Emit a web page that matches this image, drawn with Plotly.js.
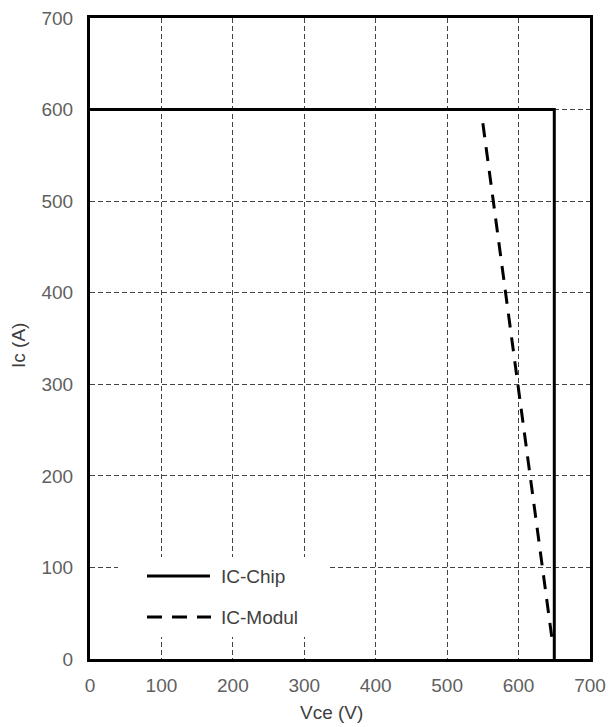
<!DOCTYPE html>
<html>
<head>
<meta charset="utf-8">
<script src="https://cdn.plot.ly/plotly-3.0.1.min.js"></script>
<style>html,body{margin:0;padding:0;background:#fff;}#chart{width:608px;height:727px;}</style>
</head>
<body>
<div id="chart"></div>
<script>
// Data
const seriesNames = ["IC-Chip", "IC-Modul"];
const chipVce = [0, 650, 650];
const chipIc = [600, 600, 0];
const modulVce = [550, 575, 600, 625, 648];
const modulIc = [585, 440, 295, 150, 15];
const tickVals = [0, 100, 200, 300, 400, 500, 600, 700];
const xTitle = "Vce (V)";
const yTitle = "Ic (A)";

const FONT = "Liberation Sans, Arial, sans-serif";

const traces = [
  {x: chipVce, y: chipIc, name: seriesNames[0], mode: "lines",
   line: {color: "#000", width: 3}, showlegend: false},
  {x: modulVce, y: modulIc, name: seriesNames[1], mode: "lines",
   line: {color: "#000", width: 3, dash: "14px,10px"}, showlegend: false}
];

const axisCommon = {
  range: [0, 700], tickvals: tickVals, ticktext: tickVals.map(String),
  showgrid: true, gridcolor: "#444", gridwidth: 1, griddash: "5px,3px",
  zeroline: false, showline: true, linecolor: "#000", linewidth: 3, mirror: true,
  ticks: "outside", tickcolor: "rgba(0,0,0,0)",
  tickfont: {family: FONT, size: 19, color: "#5f5f5f"},
  fixedrange: true
};

const layout = {
  width: 608, height: 727,
  margin: {l: 90, r: 18, t: 18, b: 68},
  paper_bgcolor: "#fff", plot_bgcolor: "#fff",
  showlegend: false,
  xaxis: Object.assign({}, axisCommon, {ticklen: 7}),
  yaxis: Object.assign({}, axisCommon, {ticklen: 10}),
  shapes: [
    {type: "rect", xref: "paper", yref: "paper", x0: (118-90)/500, x1: (327-90)/500,
     y0: (659-637)/641, y1: (659-557)/641, fillcolor: "#fff", line: {width: 0}, layer: "above"},
    {type: "line", xref: "paper", yref: "paper", x0: (147-90)/500, x1: (210-90)/500,
     y0: (659-576)/641, y1: (659-576)/641, line: {color: "#000", width: 3}, layer: "above"},
    {type: "line", xref: "paper", yref: "paper", x0: (147-90)/500, x1: (211-90)/500,
     y0: (659-617)/641, y1: (659-617)/641, line: {color: "#000", width: 3, dash: "15px,10px"}, layer: "above"}
  ],
  annotations: [
    {xref: "paper", yref: "paper", x: (219-90)/500, y: (659-576)/641, xanchor: "left", yanchor: "middle",
     text: seriesNames[0], showarrow: false, font: {family: FONT, size: 19, color: "#404040"}},
    {xref: "paper", yref: "paper", x: (219-90)/500, y: (659-617)/641, xanchor: "left", yanchor: "middle",
     text: seriesNames[1], showarrow: false, font: {family: FONT, size: 19, color: "#404040"}},
    {xref: "paper", yref: "paper", x: (331-90)/500, y: (659-712)/641, xanchor: "center", yanchor: "middle",
     text: xTitle, showarrow: false, font: {family: FONT, size: 19, color: "#404040"}},
    {xref: "paper", yref: "paper", x: (18-90)/500, y: (659-346)/641, xanchor: "center", yanchor: "middle",
     text: yTitle, textangle: -90, showarrow: false, font: {family: FONT, size: 19, color: "#404040"}}
  ]
};

Plotly.newPlot("chart", traces, layout, {displayModeBar: false, staticPlot: true});
</script>
</body>
</html>
